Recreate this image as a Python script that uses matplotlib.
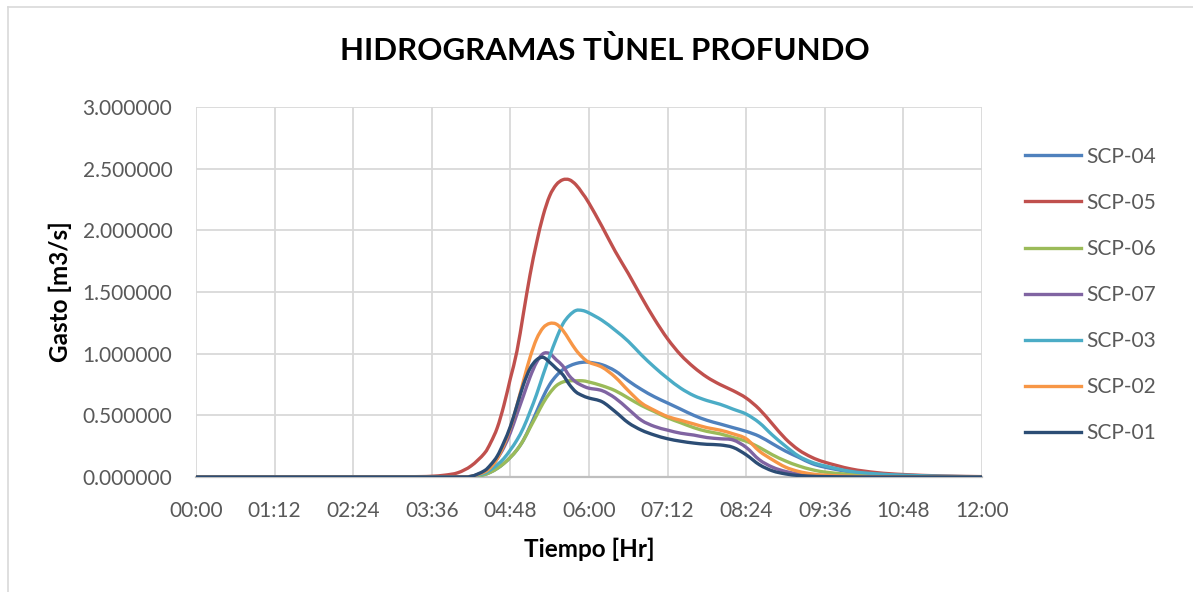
import numpy as np
import matplotlib.pyplot as plt
from matplotlib.path import Path
from matplotlib.patches import PathPatch
from matplotlib.lines import Line2D
from matplotlib.ticker import FuncFormatter

plt.rcParams['font.family'] = ['Lato', 'DejaVu Sans']

# tiempo en horas
t = [0, 1.2, 2.4, 3.0, 3.4, 3.6, 3.8, 4.0, 4.2, 4.4, 4.5, 4.6, 4.7, 4.8, 4.9,
     5.0, 5.1, 5.2, 5.3, 5.4, 5.5, 5.6, 5.7, 5.8, 5.9, 6.0, 6.2, 6.4, 6.6, 6.8,
     7.0, 7.2, 7.4, 7.6, 7.8, 8.0, 8.2, 8.4, 8.6, 8.8, 9.0, 9.2, 9.4, 9.6,
     10.0, 10.4, 10.8, 11.4, 12.0]

# gastos m3/s
scp04 = [0, 0, 0, 0, 0, 0, 0, 0, 0.002, 0.02, 0.04, 0.07, 0.11, 0.16, 0.22,
         0.30, 0.41, 0.53, 0.65, 0.75, 0.82, 0.87, 0.90, 0.92, 0.93, 0.93, 0.91, 0.86, 0.78, 0.71,
         0.65, 0.60, 0.55, 0.50, 0.46, 0.43, 0.40, 0.37, 0.33, 0.27, 0.21, 0.16, 0.11, 0.08,
         0.04, 0.02, 0.01, 0.004, 0.001]
scp05 = [0, 0, 0, 0.001, 0.003, 0.006, 0.015, 0.035, 0.09, 0.19, 0.28, 0.40, 0.58, 0.80, 1.02,
         1.33, 1.64, 1.90, 2.12, 2.28, 2.37, 2.41, 2.41, 2.37, 2.30, 2.22, 2.03, 1.83, 1.65, 1.46,
         1.28, 1.12, 0.99, 0.89, 0.81, 0.75, 0.70, 0.64, 0.55, 0.43, 0.31, 0.22, 0.16, 0.12,
         0.065, 0.035, 0.02, 0.008, 0.003]
scp06 = [0, 0, 0, 0, 0, 0, 0, 0, 0.002, 0.02, 0.04, 0.07, 0.11, 0.16, 0.22,
         0.30, 0.40, 0.50, 0.60, 0.68, 0.74, 0.77, 0.78, 0.78, 0.78, 0.77, 0.74, 0.70, 0.64, 0.58,
         0.53, 0.48, 0.44, 0.40, 0.37, 0.35, 0.32, 0.29, 0.24, 0.18, 0.13, 0.09, 0.06, 0.04,
         0.02, 0.01, 0.005, 0.002, 0]
scp07 = [0, 0, 0, 0, 0, 0, 0, 0, 0.005, 0.04, 0.08, 0.15, 0.24, 0.36, 0.51,
         0.66, 0.81, 0.93, 1.00, 1.00, 0.95, 0.90, 0.82, 0.77, 0.74, 0.72, 0.70, 0.64, 0.55, 0.46,
         0.41, 0.38, 0.355, 0.34, 0.32, 0.31, 0.30, 0.24, 0.14, 0.08, 0.045, 0.025, 0.013, 0.007,
         0.003, 0.001, 0, 0, 0]
scp03 = [0, 0, 0, 0, 0, 0, 0, 0, 0.005, 0.03, 0.06, 0.10, 0.15, 0.22, 0.30,
         0.40, 0.53, 0.67, 0.83, 0.98, 1.12, 1.24, 1.31, 1.35, 1.35, 1.33, 1.27, 1.19, 1.10, 0.99,
         0.89, 0.80, 0.72, 0.66, 0.62, 0.59, 0.55, 0.51, 0.44, 0.34, 0.25, 0.17, 0.12, 0.09,
         0.045, 0.025, 0.015, 0.006, 0.002]
scp02 = [0, 0, 0, 0, 0, 0, 0, 0, 0.005, 0.04, 0.08, 0.15, 0.26, 0.40, 0.58,
         0.78, 0.97, 1.12, 1.21, 1.245, 1.24, 1.19, 1.11, 1.03, 0.97, 0.93, 0.89, 0.81, 0.70, 0.60,
         0.54, 0.49, 0.46, 0.43, 0.40, 0.38, 0.35, 0.31, 0.21, 0.14, 0.08, 0.045, 0.025, 0.015,
         0.006, 0.003, 0.001, 0, 0]
scp01 = [0, 0, 0, 0, 0, 0, 0, 0, 0.005, 0.05, 0.10, 0.17, 0.28, 0.41, 0.58,
         0.75, 0.88, 0.95, 0.97, 0.93, 0.88, 0.83, 0.75, 0.69, 0.66, 0.64, 0.61, 0.53, 0.44, 0.38,
         0.34, 0.31, 0.29, 0.275, 0.265, 0.26, 0.24, 0.18, 0.10, 0.05, 0.025, 0.012, 0.006, 0.003,
         0.001, 0, 0, 0, 0]

nombres = ['SCP-04', 'SCP-05', 'SCP-06', 'SCP-07', 'SCP-03', 'SCP-02', 'SCP-01']
series = [scp04, scp05, scp06, scp07, scp03, scp02, scp01]
colores = ['#4F81BD', '#C0504D', '#9BBB59', '#8064A2', '#4BACC6', '#F79646', '#2C4D75']


def curva_suave(x, y):
    # linea suavizada tipo Excel (bezier cubica)
    x = np.asarray(x, float)
    y = np.asarray(y, float)
    p = np.column_stack([x, y])
    n = len(p)
    verts = [p[0]]
    codes = [Path.MOVETO]
    for i in range(n - 1):
        p0 = p[max(i - 1, 0)]
        p1 = p[i]
        p2 = p[i + 1]
        p3 = p[min(i + 2, n - 1)]
        c1 = p1 + (p2 - p0) / 6.0
        c2 = p2 - (p3 - p1) / 6.0
        verts += [c1, c2, p2]
        codes += [Path.CURVE4] * 3
    return Path(verts, codes)


fig = plt.figure(figsize=(11.93, 5.92), dpi=100)
ax = fig.add_axes([196 / 1193, 1 - 477 / 592, (982 - 196) / 1193, (477 - 107) / 592])

for y, c in zip(series, colores):
    ax.add_patch(PathPatch(curva_suave(t, y), facecolor='none', edgecolor=c,
                           lw=2.4, capstyle='round', joinstyle='round', zorder=3))

ax.set_xlim(0, 12)
ax.set_ylim(0, 3)
ax.set_xticks(np.arange(0, 12.01, 1.2))
ax.set_yticks(np.arange(0, 3.01, 0.5))


def hhmm(v, pos):
    m = int(round(v * 60))
    return '%02d:%02d' % (m // 60, m % 60)


ax.xaxis.set_major_formatter(FuncFormatter(hhmm))
ax.yaxis.set_major_formatter(FuncFormatter(lambda v, p: '%.6f' % v))
ax.grid(True, color='#D9D9D9', lw=1.3, zorder=0)
ax.set_axisbelow(True)
for s in ['top', 'right', 'left']:
    ax.spines[s].set_visible(False)
ax.spines['bottom'].set_color('#BFBFBF')
ax.spines['bottom'].set_linewidth(1.6)
ax.tick_params(axis='both', length=0, labelsize=15, colors='#595959')
ax.tick_params(axis='x', pad=17)
ax.tick_params(axis='y', pad=17)

ax.set_xlabel('Tiempo [Hr]', fontsize=17.5, fontweight='bold', labelpad=12)
ax.set_ylabel('Gasto [m3/s]', fontsize=17.5, fontweight='bold', labelpad=8)

fig.text(605 / 1193, 1 - 50 / 592, 'HIDROGRAMAS TÙNEL PROFUNDO', ha='center', va='center',
         fontsize=22.5, fontweight='bold')

handles = [Line2D([], [], color=c, lw=2.4) for c in colores]
fig.legend(handles, nombres, loc='upper left', bbox_to_anchor=(1006 / 1193, 1 - 128 / 592),
           frameon=False, fontsize=15, labelcolor='#595959', handlelength=2.7,
           handletextpad=0.25, labelspacing=1.25)

# borde del area del grafico
fig.add_artist(Line2D([8 / 1193, 8 / 1193], [0, 1 - 7 / 592], color='#D9D9D9', lw=1.2))
fig.add_artist(Line2D([8 / 1193, 1], [1 - 7 / 592, 1 - 7 / 592], color='#D9D9D9', lw=1.2))

fig.savefig('out.png', dpi=100)
